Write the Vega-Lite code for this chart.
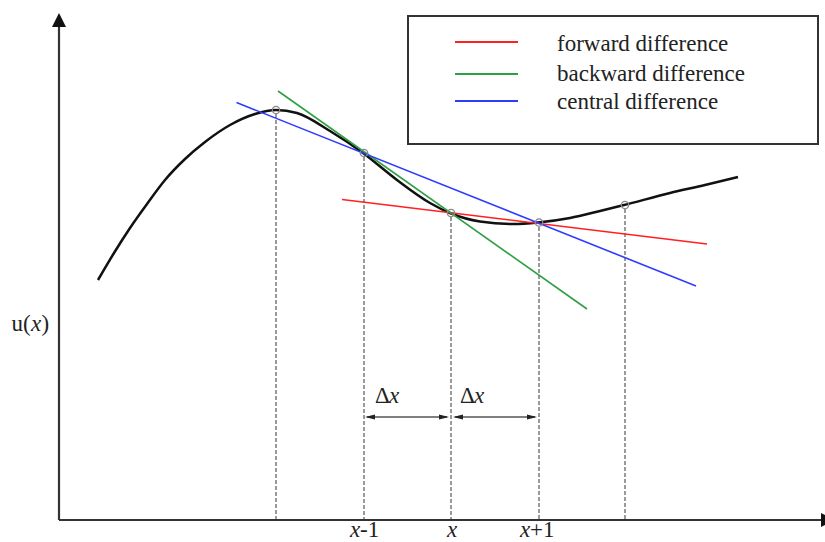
{
  "$schema": "https://vega.github.io/schema/vega-lite/v6.json",
  "width": 825,
  "height": 542,
  "autosize": {"type": "none"},
  "padding": 0,
  "background": "white",
  "config": {"view": {"stroke": null}},
  "resolve": {"scale": {"shape": "independent"}},
  "datasets": {
    "curve": [
      {"x": 98, "y": 280}, {"x": 114, "y": 253}, {"x": 130, "y": 228}, {"x": 147, "y": 204},
      {"x": 165, "y": 180}, {"x": 185, "y": 159}, {"x": 205, "y": 142}, {"x": 230, "y": 125},
      {"x": 255, "y": 114}, {"x": 276, "y": 110}, {"x": 297, "y": 113}, {"x": 330, "y": 131},
      {"x": 363, "y": 153}, {"x": 397, "y": 180}, {"x": 430, "y": 203}, {"x": 450, "y": 213},
      {"x": 480, "y": 221.5}, {"x": 513, "y": 224}, {"x": 538, "y": 222.5}, {"x": 570, "y": 218},
      {"x": 600, "y": 211}, {"x": 624, "y": 205}, {"x": 670, "y": 193}, {"x": 705, "y": 185},
      {"x": 738, "y": 177}
    ],
    "tangents": [
      {"k": "forward difference", "x": 342, "y": 199.5},
      {"k": "forward difference", "x": 707, "y": 244},
      {"k": "backward difference", "x": 278, "y": 91},
      {"k": "backward difference", "x": 587, "y": 309},
      {"k": "central difference", "x": 236.5, "y": 102.5},
      {"k": "central difference", "x": 696, "y": 286}
    ],
    "legendRows": [
      {"k": "forward difference", "x": 455, "x2": 518, "y": 42},
      {"k": "backward difference", "x": 455, "x2": 518, "y": 74},
      {"k": "central difference", "x": 455, "x2": 518, "y": 101}
    ],
    "pts": [
      {"x": 276, "y": 110}, {"x": 364, "y": 153}, {"x": 451, "y": 213},
      {"x": 539, "y": 222.5}, {"x": 625, "y": 205}
    ],
    "drops": [
      {"x": 276, "y": 114, "y2": 520}, {"x": 364, "y": 157, "y2": 520},
      {"x": 451, "y": 217, "y2": 520}, {"x": 539, "y": 227, "y2": 520},
      {"x": 625, "y": 209, "y2": 520}
    ],
    "axisLines": [
      {"x": 59, "y": 520, "x2": 59, "y2": 24},
      {"x": 59, "y": 520, "x2": 824, "y2": 520}
    ],
    "deltaLines": [
      {"x": 367, "y": 417, "x2": 447, "y2": 417},
      {"x": 455, "y": 417, "x2": 535, "y2": 417}
    ],
    "axisHeads": [
      {"x": 59, "y": 13, "dir": "up"},
      {"x": 835, "y": 520, "dir": "right"}
    ],
    "deltaHeads": [
      {"x": 365, "y": 417, "dir": "left"},
      {"x": 449, "y": 417, "dir": "right"},
      {"x": 453, "y": 417, "dir": "left"},
      {"x": 537, "y": 417, "dir": "right"}
    ],
    "box": [{"x": 408, "x2": 818, "y": 16, "y2": 144}],
    "uprightText": [
      {"x": 557, "y": 51, "t": "forward difference"},
      {"x": 557, "y": 81, "t": "backward difference"},
      {"x": 557, "y": 109, "t": "central difference"},
      {"x": 360, "y": 537, "t": "-1"},
      {"x": 530, "y": 537, "t": "+1"},
      {"x": 11.5, "y": 331, "t": "u("},
      {"x": 41.5, "y": 331, "t": ")"},
      {"x": 375, "y": 403, "t": "Δ"},
      {"x": 460, "y": 403, "t": "Δ"}
    ],
    "italicText": [
      {"x": 350, "y": 537, "t": "x"},
      {"x": 447, "y": 537, "t": "x"},
      {"x": 520, "y": 537, "t": "x"},
      {"x": 31, "y": 331, "t": "x"},
      {"x": 389, "y": 403, "t": "x"},
      {"x": 474, "y": 403, "t": "x"}
    ]
  },
  "encoding": {
    "x": {"field": "x", "type": "quantitative", "axis": null, "scale": {"domain": [0, 825], "nice": false, "zero": false}},
    "y": {"field": "y", "type": "quantitative", "axis": null, "scale": {"domain": [542, 0], "nice": false, "zero": false}}
  },
  "layer": [
    {
      "data": {"name": "box"},
      "mark": {"type": "rect", "fill": null, "stroke": "#333333", "strokeWidth": 2},
      "encoding": {"x2": {"field": "x2"}, "y2": {"field": "y2"}}
    },
    {
      "data": {"name": "drops"},
      "mark": {"type": "rule", "stroke": "#7a7a7a", "strokeWidth": 1.5, "strokeDash": [4, 2]},
      "encoding": {"y2": {"field": "y2"}}
    },
    {
      "data": {"name": "curve"},
      "mark": {"type": "line", "interpolate": "monotone", "stroke": "#111111", "strokeWidth": 2.5},
      "encoding": {"order": {"field": "x"}}
    },
    {
      "data": {"name": "tangents"},
      "mark": {"type": "line", "strokeWidth": 1.6},
      "encoding": {
        "color": {"field": "k", "type": "nominal", "legend": null,
          "scale": {"domain": ["forward difference", "backward difference", "central difference"], "range": ["#ff2020", "#2ea043", "#2f3cff"]}}
      }
    },
    {
      "data": {"name": "legendRows"},
      "mark": {"type": "rule", "strokeWidth": 1.8},
      "encoding": {
        "x2": {"field": "x2"},
        "color": {"field": "k", "type": "nominal", "legend": null}
      }
    },
    {
      "data": {"name": "pts"},
      "mark": {"type": "point", "shape": "circle", "filled": false, "size": 55, "stroke": "#8a8a8a", "strokeWidth": 1.3, "opacity": 1}
    },
    {
      "data": {"name": "axisLines"},
      "mark": {"type": "rule", "stroke": "#333333", "strokeWidth": 2.2},
      "encoding": {"x2": {"field": "x2"}, "y2": {"field": "y2"}}
    },
    {
      "data": {"name": "deltaLines"},
      "mark": {"type": "rule", "stroke": "#555555", "strokeWidth": 1.6},
      "encoding": {"x2": {"field": "x2"}, "y2": {"field": "y2"}}
    },
    {
      "data": {"name": "axisHeads"},
      "mark": {"type": "point", "filled": true, "size": 100, "fill": "#111111", "strokeWidth": 0, "opacity": 1},
      "encoding": {
        "shape": {"field": "dir", "type": "nominal", "legend": null,
          "scale": {"domain": ["up", "right"], "range": ["M0,0L-1.4,2.8L1.4,2.8Z", "M0,0L-2.8,-1.4L-2.8,1.4Z"]}}
      }
    },
    {
      "data": {"name": "deltaHeads"},
      "mark": {"type": "point", "filled": true, "size": 100, "fill": "#222222", "strokeWidth": 0, "opacity": 1},
      "encoding": {
        "shape": {"field": "dir", "type": "nominal", "legend": null,
          "scale": {"domain": ["left", "right"], "range": ["M0,0L2,-0.5L2,0.5Z", "M0,0L-2,-0.5L-2,0.5Z"]}}
      }
    },
    {
      "data": {"name": "uprightText"},
      "mark": {"type": "text", "align": "left", "baseline": "alphabetic", "font": "Liberation Serif", "fontSize": 23, "fill": "#222222"},
      "encoding": {"text": {"field": "t"}}
    },
    {
      "data": {"name": "italicText"},
      "mark": {"type": "text", "align": "left", "baseline": "alphabetic", "font": "Liberation Serif", "fontStyle": "italic", "fontSize": 23, "fill": "#222222"},
      "encoding": {"text": {"field": "t"}}
    }
  ]
}
